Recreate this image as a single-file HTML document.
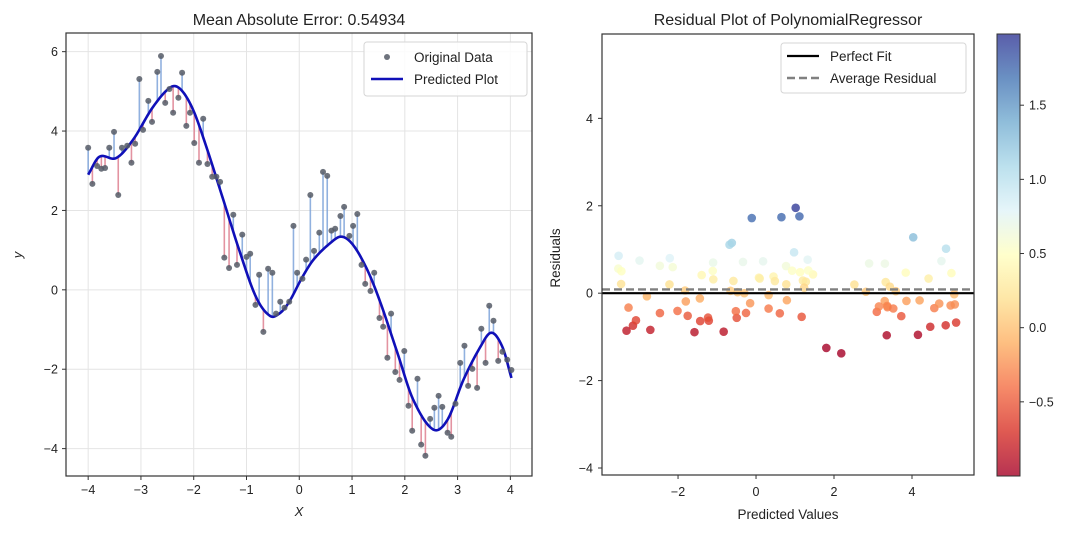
<!DOCTYPE html>
<html>
<head>
<meta charset="utf-8">
<style>
  html,body{margin:0;padding:0;background:#fff;}
  svg{display:block;font-family:"Liberation Sans","DejaVu Sans",sans-serif;}
</style>
</head>
<body>
<svg id="chart" width="1080" height="535" viewBox="0 0 1080 535" xmlns="http://www.w3.org/2000/svg">
  <defs>
    <linearGradient id="cbgrad" x1="0" y1="1" x2="0" y2="0">
      <stop offset="0" stop-color="#a50026"/>
      <stop offset="0.1" stop-color="#d73027"/>
      <stop offset="0.2" stop-color="#f46d43"/>
      <stop offset="0.3" stop-color="#fdae61"/>
      <stop offset="0.4" stop-color="#fee090"/>
      <stop offset="0.5" stop-color="#ffffbf"/>
      <stop offset="0.6" stop-color="#e0f3f8"/>
      <stop offset="0.7" stop-color="#abd9e9"/>
      <stop offset="0.8" stop-color="#74add1"/>
      <stop offset="0.9" stop-color="#4575b4"/>
      <stop offset="1" stop-color="#313695"/>
    </linearGradient>
  </defs>
  <g id="left"></g>
  <g id="right"></g>
  <g id="cbar"></g>
</svg>
<script>
// ---- data ----
const dataX = [-4.00,-3.92,-3.83,-3.75,-3.68,-3.60,-3.51,-3.43,-3.36,-3.26,-3.18,-3.11,-3.03,-2.96,-2.86,-2.79,-2.69,-2.62,-2.54,-2.46,-2.39,-2.29,-2.22,-2.14,-2.07,-1.99,-1.90,-1.82,-1.74,-1.65,-1.57,-1.50,-1.42,-1.33,-1.25,-1.18,-1.08,-1.00,-0.93,-0.83,-0.76,-0.68,-0.59,-0.51,-0.44,-0.36,-0.28,-0.19,-0.11,-0.04,0.06,0.13,0.21,0.28,0.38,0.45,0.53,0.61,0.68,0.78,0.85,0.95,1.02,1.10,1.18,1.25,1.35,1.42,1.52,1.59,1.67,1.74,1.82,1.90,1.99,2.07,2.14,2.24,2.31,2.39,2.48,2.56,2.64,2.71,2.81,2.88,2.96,3.05,3.13,3.20,3.28,3.37,3.45,3.53,3.60,3.68,3.77,3.85,3.94,4.02];
const dataY = [3.58,2.67,3.12,3.05,3.07,3.58,3.98,2.39,3.58,3.63,3.20,3.68,5.31,4.03,4.76,4.23,5.49,5.89,4.71,5.06,4.46,4.84,5.47,4.13,4.46,3.70,3.20,4.31,3.17,2.85,2.85,2.72,0.81,0.55,1.89,0.63,1.39,0.83,0.91,-0.38,0.38,-1.06,0.53,0.43,-0.60,-0.30,-0.45,-0.30,1.61,0.43,0.28,0.76,2.39,0.98,1.44,2.97,2.87,1.49,1.54,1.86,2.09,1.36,1.61,1.91,0.63,0.15,-0.03,0.43,-0.71,-0.93,-1.71,-0.60,-2.07,-2.27,-1.54,-2.92,-3.55,-2.24,-3.90,-4.18,-3.25,-2.97,-2.67,-2.95,-3.60,-3.70,-2.87,-1.84,-1.41,-2.42,-1.99,-2.47,-0.98,-1.84,-0.40,-0.78,-1.79,-1.56,-1.76,-2.02];
const curveX = [-4.00,-3.79,-3.47,-3.15,-2.77,-2.43,-2.24,-2.01,-1.76,-1.44,-1.14,-0.82,-0.55,-0.36,-0.19,0.05,0.27,0.59,0.80,1.02,1.29,1.54,1.86,2.16,2.54,2.81,3.11,3.43,3.64,3.85,4.02];
const curveY = [2.90,3.35,3.32,3.78,4.61,5.11,5.04,4.53,3.60,2.27,1.01,-0.18,-0.66,-0.58,-0.30,0.30,0.76,1.18,1.34,1.13,0.50,-0.33,-1.59,-2.77,-3.52,-3.27,-2.27,-1.44,-1.08,-1.44,-2.22];
const leftXTicks = [-4,-3,-2,-1,0,1,2,3,4];
const leftYTicks = [-4,-2,0,2,4,6];
const rightXTicks = [-2,0,2,4];
const rightYTicks = [-4,-2,0,2,4];
const cbarTicks = [-0.5,0.0,0.5,1.0,1.5];
const cbarRange = [-1.0, 1.98];
const titleLeft = "Mean Absolute Error: 0.54934";
const titleRight = "Residual Plot of PolynomialRegressor";

const NS = "http://www.w3.org/2000/svg";
function mk(parent, tag, attrs, text){
  const e = document.createElementNS(NS, tag);
  for (const k in attrs) e.setAttribute(k, attrs[k]);
  if (text !== undefined) e.textContent = text;
  parent.appendChild(e);
  return e;
}
const fmt = v => (v < 0 ? "\u2212" + Math.abs(v) : String(v));
const fmt1 = v => (v < 0 ? "\u2212" + Math.abs(v).toFixed(1) : v.toFixed(1));

function model(x){
  const n = curveX.length;
  if (x <= curveX[0]) return curveY[0];
  if (x >= curveX[n-1]) return curveY[n-1];
  let i = 0; while (curveX[i+1] < x) i++;
  const slope = k => {
    if (k === 0) return (curveY[1]-curveY[0])/(curveX[1]-curveX[0]);
    if (k === n-1) return (curveY[n-1]-curveY[n-2])/(curveX[n-1]-curveX[n-2]);
    return (curveY[k+1]-curveY[k-1])/(curveX[k+1]-curveX[k-1]);
  };
  const h = curveX[i+1]-curveX[i], t = (x-curveX[i])/h;
  const h00 = 2*t*t*t-3*t*t+1, h10 = t*t*t-2*t*t+t, h01 = -2*t*t*t+3*t*t, h11 = t*t*t-t*t;
  return h00*curveY[i] + h10*h*slope(i) + h01*curveY[i+1] + h11*h*slope(i+1);
}

// ---------- LEFT PLOT ----------
const L = {x0:66, x1:532, y0:33, y1:476, xmin:-4.42, xmax:4.41, ymin:-4.69, ymax:6.47};
const lx = v => L.x0 + (v - L.xmin)/(L.xmax - L.xmin)*(L.x1 - L.x0);
const ly = v => L.y1 - (v - L.ymin)/(L.ymax - L.ymin)*(L.y1 - L.y0);
const left = document.getElementById('left');

const lt = mk(left,'text',{x:299,y:25,'text-anchor':'middle','font-size':16,fill:'#222'},titleLeft);



const lgrid = mk(left,'g',{});


leftXTicks.forEach(t=>{ mk(lgrid,'line',{x1:lx(t),x2:lx(t),y1:L.y0,y2:L.y1,stroke:'#e4e4e4','stroke-width':1}); });
leftYTicks.forEach(t=>{ mk(lgrid,'line',{x1:L.x0,x2:L.x1,y1:ly(t),y2:ly(t),stroke:'#e4e4e4','stroke-width':1}); });

const stems = mk(left,'g',{});


dataX.forEach((x,i)=>{
  const p = model(x), y = dataY[i];
  const s = mk(stems,'line',{x1:lx(x),x2:lx(x),y1:ly(y),y2:ly(p),stroke:y>=p?'#7ea3d9':'#de8090','stroke-width':1.6,'stroke-opacity':0.85});
  
  
});
let d = "";
for (let k=0;k<=400;k++){
  const x = curveX[0] + (curveX[curveX.length-1]-curveX[0])*k/400;
  d += (k?"L":"M") + lx(x).toFixed(2) + "," + ly(model(x)).toFixed(2);
}
const cv = mk(left,'path',{d:d,fill:'none',stroke:'#1010b8','stroke-width':2.6});


const pts = mk(left,'g',{});


dataX.forEach((x,i)=>{
  const c = mk(pts,'circle',{cx:lx(x),cy:ly(dataY[i]),r:3,fill:'#555b66','fill-opacity':0.85});
  
  
});
const lf = mk(left,'rect',{x:L.x0,y:L.y0,width:L.x1-L.x0,height:L.y1-L.y0,fill:'none',stroke:'#333','stroke-width':1.2});


const lxt = mk(left,'g',{'font-size':12.5,fill:'#222'});


leftXTicks.forEach(t=>{
  mk(lxt,'line',{x1:lx(t),x2:lx(t),y1:L.y1,y2:L.y1+4,stroke:'#333'});
  mk(lxt,'text',{x:lx(t),y:L.y1+18,'text-anchor':'middle'},fmt(t));
});
const lyt = mk(left,'g',{'font-size':12.5,fill:'#222'});


leftYTicks.forEach(t=>{
  mk(lyt,'line',{x1:L.x0-4,x2:L.x0,y1:ly(t),y2:ly(t),stroke:'#333'});
  mk(lyt,'text',{x:L.x0-8,y:ly(t)+4.5,'text-anchor':'end'},fmt(t));
});
const lxl = mk(left,'text',{x:299,y:516,'text-anchor':'middle','font-size':13,'font-style':'italic',fill:'#222'},'X');


const lyl = mk(left,'text',{x:22,y:255,'text-anchor':'middle','font-size':13,'font-style':'italic',fill:'#222',transform:'rotate(-90 22 255)'},'y');


const lleg = mk(left,'g',{});


mk(lleg,'rect',{x:364,y:42,width:163,height:54,rx:3,fill:'#fff','fill-opacity':0.85,stroke:'#d6d6d6'});
const le1 = mk(lleg,'g',{});


mk(le1,'circle',{cx:387,cy:57,r:3,fill:'#555b66','fill-opacity':0.85});
mk(le1,'text',{x:414,y:62,'font-size':13.5,fill:'#222'},'Original Data');
const le2 = mk(lleg,'g',{});


mk(le2,'line',{x1:371,x2:403,y1:79,y2:79,stroke:'#1010b8','stroke-width':2.6});
mk(le2,'text',{x:414,y:84,'font-size':13.5,fill:'#222'},'Predicted Plot');

// ---------- RIGHT PLOT ----------
const R = {x0:602, x1:974, y0:34, y1:475, xmin:-3.95, xmax:5.59, ymin:-4.16, ymax:5.93};
const rx = v => R.x0 + (v - R.xmin)/(R.xmax - R.xmin)*(R.x1 - R.x0);
const ry = v => R.y1 - (v - R.ymin)/(R.ymax - R.ymin)*(R.y1 - R.y0);
const right = document.getElementById('right');
const rt = mk(right,'text',{x:788,y:25,'text-anchor':'middle','font-size':16,fill:'#222'},titleRight);



const preds = dataX.map(model);
const resid = dataY.map((y,i)=>y-preds[i]);
const vmin = cbarRange[0], vmax = cbarRange[1];
const meanRes = resid.reduce((a,b)=>a+b,0)/resid.length;

const stops = [[165,0,38],[215,48,39],[244,109,67],[253,174,97],[254,224,144],[255,255,191],[224,243,248],[171,217,233],[116,173,209],[69,117,180],[49,54,149]];
function cmap(t){
  t = Math.max(0,Math.min(1,t))*10;
  const i = Math.min(9,Math.floor(t)), f = t-i;
  const a = stops[i], b = stops[i+1];
  return 'rgb('+a.map((v,k)=>Math.round(v+(b[k]-v)*f)).join(',')+')';
}

const rp = mk(right,'g',{});


preds.forEach((p,i)=>{
  const c = mk(rp,'circle',{cx:rx(p),cy:ry(resid[i]),r:4.3,fill:cmap((resid[i]-vmin)/(vmax-vmin)),'fill-opacity':0.8});
  
  
});
const pf = mk(right,'line',{x1:R.x0,x2:R.x1,y1:ry(0),y2:ry(0),stroke:'#000','stroke-width':2.2});


const ar = mk(right,'line',{x1:R.x0,x2:R.x1,y1:ry(meanRes),y2:ry(meanRes),stroke:'#808080','stroke-width':2.4,'stroke-dasharray':'8,4'});


const rf = mk(right,'rect',{x:R.x0,y:R.y0,width:R.x1-R.x0,height:R.y1-R.y0,fill:'none',stroke:'#333','stroke-width':1.2});


const rxt = mk(right,'g',{'font-size':12.5,fill:'#222'});


rightXTicks.forEach(t=>{
  mk(rxt,'line',{x1:rx(t),x2:rx(t),y1:R.y1,y2:R.y1+4,stroke:'#333'});
  mk(rxt,'text',{x:rx(t),y:R.y1+21,'text-anchor':'middle'},fmt(t));
});
const ryt = mk(right,'g',{'font-size':12.5,fill:'#222'});


rightYTicks.forEach(t=>{
  mk(ryt,'line',{x1:R.x0-4,x2:R.x0,y1:ry(t),y2:ry(t),stroke:'#333'});
  mk(ryt,'text',{x:R.x0-9,y:ry(t)+4.5,'text-anchor':'end'},fmt(t));
});
const rxl = mk(right,'text',{x:788,y:519,'text-anchor':'middle','font-size':13.5,fill:'#222'},'Predicted Values');


const ryl = mk(right,'text',{x:560,y:258,'text-anchor':'middle','font-size':13.5,fill:'#222',transform:'rotate(-90 560 258)'},'Residuals');


const rleg = mk(right,'g',{});


mk(rleg,'rect',{x:781,y:43,width:185,height:50,rx:3,fill:'#fff','fill-opacity':0.85,stroke:'#d6d6d6'});
const re1 = mk(rleg,'g',{});


mk(re1,'line',{x1:787,x2:819,y1:56,y2:56,stroke:'#000','stroke-width':2.2});
mk(re1,'text',{x:830,y:61,'font-size':13.5,fill:'#222'},'Perfect Fit');
const re2 = mk(rleg,'g',{});


mk(re2,'line',{x1:787,x2:819,y1:78,y2:78,stroke:'#808080','stroke-width':2.4,'stroke-dasharray':'8,4'});
mk(re2,'text',{x:830,y:83,'font-size':13.5,fill:'#222'},'Average Residual');

// ---------- COLORBAR ----------
const C = {x0:997, x1:1020, y0:34, y1:476};
const cy = v => C.y1 - (v - vmin)/(vmax - vmin)*(C.y1 - C.y0);
const cb = document.getElementById('cbar');
const cbr = mk(cb,'rect',{x:C.x0,y:C.y0,width:C.x1-C.x0,height:C.y1-C.y0,fill:'url(#cbgrad)','fill-opacity':0.8,stroke:'#333','stroke-width':1});


const cbt = mk(cb,'g',{'font-size':12.5,fill:'#222'});


cbarTicks.forEach(t=>{
  mk(cbt,'line',{x1:C.x1,x2:C.x1+4,y1:cy(t),y2:cy(t),stroke:'#333'});
  mk(cbt,'text',{x:C.x1+9,y:cy(t)+4.5},fmt1(t));
});
</script>
</body>
</html>
